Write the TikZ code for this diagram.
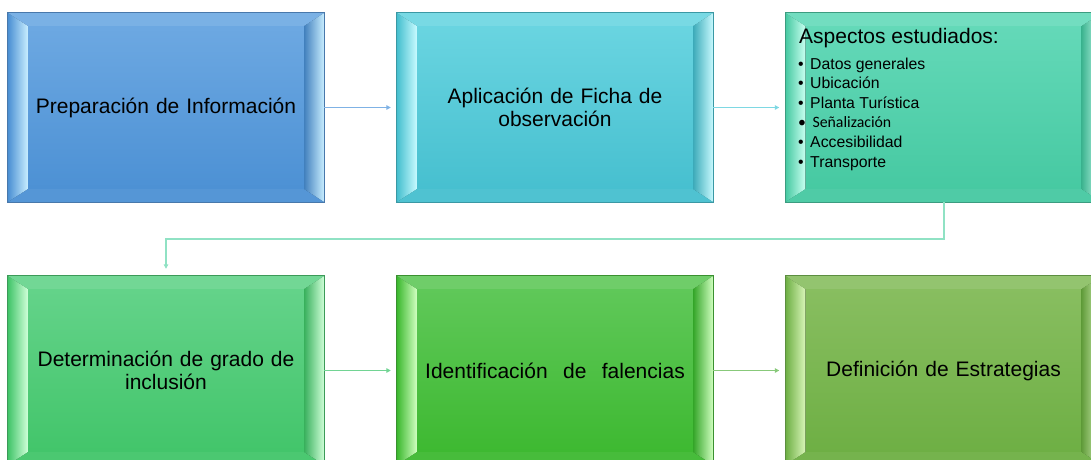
\documentclass[tikz,border=0pt]{standalone}
\usepackage{fontspec}
\setmainfont{Liberation Sans}
\newfontfamily\carlfont{Carlito}
\usetikzlibrary{calc,arrows.meta}
\definecolor{bAt}{HTML}{6FAAE3}\definecolor{bAb}{HTML}{4A8FD3}\definecolor{bAr}{HTML}{4878AB}\definecolor{bAl}{HTML}{C8EEFF}
\definecolor{bBt}{HTML}{6CD6E2}\definecolor{bBb}{HTML}{44BECE}\definecolor{bBr}{HTML}{3A98A4}\definecolor{bBl}{HTML}{C8FAFF}
\definecolor{bCt}{HTML}{66DABA}\definecolor{bCb}{HTML}{44C8A0}\definecolor{bCr}{HTML}{3C9C80}\definecolor{bCl}{HTML}{C8FFF0}
\definecolor{bDt}{HTML}{66D48C}\definecolor{bDb}{HTML}{40C468}\definecolor{bDr}{HTML}{3C9A58}\definecolor{bDl}{HTML}{CFFFD8}
\definecolor{bEt}{HTML}{62C95C}\definecolor{bEb}{HTML}{3BB82E}\definecolor{bEr}{HTML}{3A9030}\definecolor{bEl}{HTML}{D0FFC0}
\definecolor{bFt}{HTML}{8ABF62}\definecolor{bFb}{HTML}{6CAE42}\definecolor{bFr}{HTML}{5C8E40}\definecolor{bFl}{HTML}{D8F5B8}
\definecolor{aA}{HTML}{7FB2E5}\definecolor{aB}{HTML}{7ED8E3}\definecolor{aC}{HTML}{90E2C4}
\definecolor{aD}{HTML}{72D494}\definecolor{aE}{HTML}{88C97A}
% #1 node, #2 prefix of colour names
\newcommand{\bevelfx}[2]{%
  \fill[left color=#2b, middle color=#2b, right color=#2l] (#1.north west) -- ($(#1.north west)+(20,13)$) -- ($(#1.south west)+(20,-13)$) -- (#1.south west) -- cycle;
  \fill[left color=#2b!90!black, middle color=#2b!95!white, right color=#2l] (#1.north east) -- ($(#1.north east)+(-20,13)$) -- ($(#1.south east)+(-20,-13)$) -- (#1.south east) -- cycle;
  \fill[#2t!92!white] (#1.north west) -- ($(#1.north west)+(20,13)$) -- ($(#1.north east)+(-20,13)$) -- (#1.north east) -- cycle;
  \fill[#2b!94!white] (#1.south west) -- ($(#1.south west)+(20,-13)$) -- ($(#1.south east)+(-20,-13)$) -- (#1.south east) -- cycle;
  \draw[#2r, line width=1pt] (#1.north west) rectangle (#1.south east);
}
\tikzset{
  box/.style={minimum width=316pt, minimum height=189pt, inner sep=0pt, text width=295pt, align=center,
    font=\fontsize{21}{23}\selectfont},
  conn/.style={line width=1.1pt, -{Triangle[length=4.5pt,width=4.5pt]}, shorten >=6pt},
  item/.style={anchor=base west, inner sep=0pt, font=\fontsize{15.8}{18}\selectfont},
}
\begin{document}
\begin{tikzpicture}[x=1pt,y=-1pt]
\useasboundingbox (0,0) rectangle (1091,459);
\clip (0,0) rectangle (1091,459);
\node[box, top color=bAt, bottom color=bAb] (b1) at (166,107.5) {Preparación de Información};
\bevelfx{b1}{bA}
\node[box, top color=bBt, bottom color=bBb] (b2) at (555,107.5) {Aplicación de Ficha de\\observación};
\bevelfx{b2}{bB}
\node[box, top color=bCt, bottom color=bCb] (b3) at (943.5,107.5) {};
\bevelfx{b3}{bC}
\node[box, top color=bDt, bottom color=bDb] (b4) at (166,370.5) {Determinación de grado de\\inclusión};
\bevelfx{b4}{bD}
\node[box, top color=bEt, bottom color=bEb] (b5) at (555,370.5) {Identificación\hspace{0.4em} de\hspace{0.4em} falencias};
\bevelfx{b5}{bE}
\node[box, top color=bFt, bottom color=bFb] (b6) at (943.5,370.5) {Definición de Estrategias};
\bevelfx{b6}{bF}
% list in box 3
\node[anchor=base west, inner sep=0pt, font=\fontsize{21}{23}\selectfont] (t3) at (799,43) {Aspectos estudiados:};
\node[item] (i1) at (798,69) {•\hspace{6.5pt}Datos generales};
\node[item] (i2) at (798,88.5) {•\hspace{6.5pt}Ubicación};
\node[item] (i3) at (798,108) {•\hspace{6.5pt}Planta Turística};
\node[item, font=\carlfont\fontsize{15.8}{18}\selectfont] (i4) at (798,127.5) {•\hspace{6.5pt}Señalización};
\node[item] (i5) at (798,147.5) {•\hspace{6.5pt}Accesibilidad};
\node[item] (i6) at (798,167) {•\hspace{6.5pt}Transporte};
% connectors
\draw[conn, aA] (b1.east) -- (b2.west);
\draw[conn, aB] (b2.east) -- (b3.west);
\coordinate (c1) at (944,239);
\coordinate (c2) at (166,239);
\draw[conn, aC, shorten >=7pt] (b3.south -| c1) -- (c1) -- (c2) -- (b4.north -| c2);
\draw[conn, aD] (b4.east) -- (b5.west);
\draw[conn, aE] (b5.east) -- (b6.west);
\end{tikzpicture}
\end{document}
